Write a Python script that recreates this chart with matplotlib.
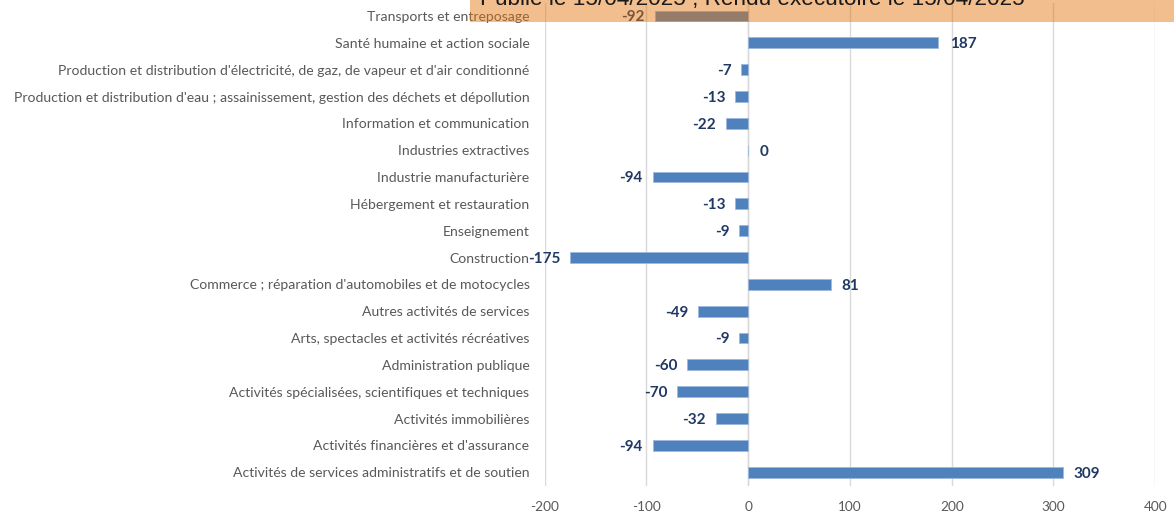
import matplotlib
matplotlib.use("Agg")
import matplotlib.pyplot as plt
from matplotlib.patches import Rectangle

categories = [
    "Activités de services administratifs et de soutien",
    "Activités financières et d'assurance",
    "Activités immobilières",
    "Activités spécialisées, scientifiques et techniques",
    "Administration publique",
    "Arts, spectacles et activités récréatives",
    "Autres activités de services",
    "Commerce ; réparation d'automobiles et de motocycles",
    "Construction",
    "Enseignement",
    "Hébergement et restauration",
    "Industrie manufacturière",
    "Industries extractives",
    "Information et communication",
    "Production et distribution d'eau ; assainissement, gestion des déchets et dépollution",
    "Production et distribution d'électricité, de gaz, de vapeur et d'air conditionné",
    "Santé humaine et action sociale",
    "Transports et entreposage",
]
values = [309, -94, -32, -70, -60, -9, -49, 81, -175, -9, -13, -94, 0, -22, -13, -7, 187, -92]
xticks = [-200, -100, 0, 100, 200, 300, 400]
stamp_text = "Publié le 15/04/2025 ; Rendu exécutoire le 15/04/2025"

plt.rcParams['font.family'] = ['Lato', 'DejaVu Sans']

fig = plt.figure(figsize=(11.74, 5.13), dpi=100)
ax = fig.add_axes([0.464, 0.0534, 0.520, 0.9415])

y = list(range(len(categories)))
ax.barh(y, values, height=0.4, color='#4F81BD', edgecolor='#9DB9DD', linewidth=0.6, zorder=3)
ax.set_xlim(-200, 400)
ax.set_ylim(-0.5, len(categories) - 0.5)
ax.set_xticks(xticks)
ax.set_xticklabels([str(t) for t in xticks])
ax.set_yticks(y)
ax.set_yticklabels(categories)
ax.tick_params(axis='y', length=0, pad=11, labelsize=10.1, labelcolor='#595959')
ax.tick_params(axis='x', length=0, pad=11, labelsize=9.8, labelcolor='#595959')
ax.grid(axis='x', color='#D9D9D9', linewidth=1, zorder=0)
for s in ax.spines.values():
    s.set_visible(False)
ax.axvline(0, color='#D9D9D9', linewidth=1, zorder=1)

for yi, v in zip(y, values):
    if v < 0:
        ax.annotate(str(v), (v, yi), xytext=(-7, -1), textcoords='offset points',
                    ha='right', va='center', fontsize=11, fontweight='bold', color='#1F3864', zorder=4)
    else:
        ax.annotate(str(v), (v, yi), xytext=(8, -1), textcoords='offset points',
                    ha='left', va='center', fontsize=11, fontweight='bold', color='#1F3864', zorder=4)

# orange stamp overlay
fig.patches.append(Rectangle((470 / 1174, 1 - 22 / 513), 1 - 470 / 1174, 22 / 513,
                             transform=fig.transFigure, facecolor='#E4750D', alpha=0.47,
                             edgecolor='none', zorder=10))
fig.text(480 / 1174, 1 - 5 / 513, stamp_text, fontsize=16.2, color='#1a1a1a',
         family=['Liberation Sans', 'DejaVu Sans'], ha='left', va='baseline', zorder=11)

fig.savefig('out.png', dpi=100)
